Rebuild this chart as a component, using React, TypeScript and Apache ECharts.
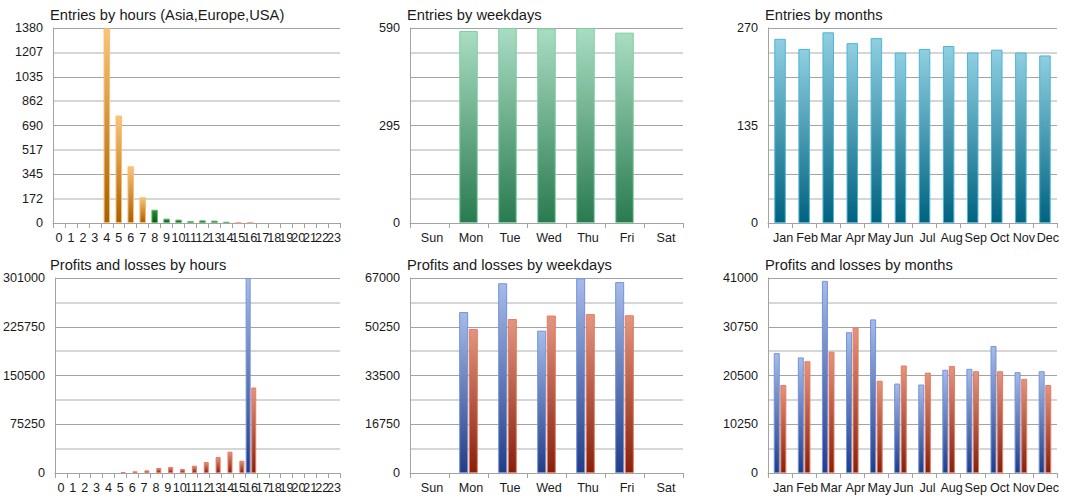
import { useEffect, useRef } from 'react';
import * as echarts from 'echarts';

// Category labels
const hourLabels = ['0', '1', '2', '3', '4', '5', '6', '7', '8', '9', '10', '11', '12', '13', '14', '15', '16', '17', '18', '19', '20', '21', '22', '23'];
const weekdayLabels = ['Sun', 'Mon', 'Tue', 'Wed', 'Thu', 'Fri', 'Sat'];
const monthLabels = ['Jan', 'Feb', 'Mar', 'Apr', 'May', 'Jun', 'Jul', 'Aug', 'Sep', 'Oct', 'Nov', 'Dec'];

// Entries by hour, one series per trading session
const entriesAsia = [null, null, null, null, 1378, 760, 401, 182, null, null, null, null, null, null, null, null, null, null, null, null, null, null, null, null];
const entriesEurope = [null, null, null, null, null, null, null, null, 94, 31, 24, 14, 19, 17, 9, null, null, null, null, null, null, null, null, null];
const entriesUsa = [null, null, null, null, null, null, null, null, null, null, null, null, null, null, null, 5, 5, null, null, null, null, null, null, null];

// Entries by weekday / month
const weekdayEntries = [null, 581, 590, 589, 590, 576, null];
const monthEntries = [255, 241, 264, 249, 256, 236, 241, 245, 236, 240, 236, 232];

// Profits and losses
const hourProfits = [null, null, null, null, null, null, null, null, null, null, null, null, null, null, null, null, 301000, null, null, null, null, null, null, null];
const hourLosses = [null, null, null, null, null, 1200, 2600, 4100, 7700, 9200, 6200, 11300, 16900, 24700, 32900, 19000, 132000, null, null, null, null, null, null, null];
const weekdayProfits = [null, 55300, 65200, 48900, 66900, 65600, null];
const weekdayLosses = [null, 49500, 52900, 54100, 54600, 54200, null];
const monthProfits = [25200, 24300, 40400, 29600, 32300, 18800, 18600, 21700, 21900, 26700, 21200, 21400];
const monthLosses = [18500, 23500, 25500, 30600, 19400, 22600, 21100, 22500, 21400, 21400, 19800, 18500];

// Value-axis tick labels (the axis is split in eight steps; only these are labelled)
const hourEntryTicks = [0, 172, 345, 517, 690, 862, 1035, 1207, 1380];
const weekdayEntryTicks = [0, 295, 590];
const monthEntryTicks = [0, 135, 270];
const hourPLTicks = [0, 75250, 150500, 225750, 301000];
const weekdayPLTicks = [0, 16750, 33500, 50250, 67000];
const monthPLTicks = [0, 10250, 20500, 30750, 41000];

const FONT = '"Liberation Sans", Arial, sans-serif';
const TEXT = '#1a1a1a';
const AXIS = '#a3a3a3';
const LIGHT_GRID = '#d6d6d6';

type Palette = { top: string; bottom: string; border: string };
const orange: Palette = { top: '#f9c47c', bottom: '#a85f00', border: '#fbbd6c' };
const green: Palette = { top: '#2a8a38', bottom: '#0a5812', border: '#62b96e' };
const salmon: Palette = { top: '#f2b3a2', bottom: '#d9745c', border: '#f4a996' };
const mint: Palette = { top: '#a9ddc2', bottom: '#2a7a50', border: '#7ccfa2' };
const teal: Palette = { top: '#8fcfe1', bottom: '#006380', border: '#4db6d6' };
const blue: Palette = { top: '#a6bbe9', bottom: '#213d86', border: '#7393dc' };
const red: Palette = { top: '#e39580', bottom: '#86200c', border: '#e97a5d' };

function barStyle(p: Palette) {
  return {
    color: new echarts.graphic.LinearGradient(0, 0, 0, 1, [
      { offset: 0, color: p.top },
      { offset: 1, color: p.bottom },
    ]),
    borderColor: p.border,
    borderWidth: 1,
  };
}

type Panel = {
  title: string;
  left: number;
  top: number;
  width: number;
  categories: string[];
  ticks: number[];
  labelPad: number;
};

const panels: Panel[] = [
  { title: 'Entries by hours (Asia,Europe,USA)', left: 53, top: 28, width: 287, categories: hourLabels, ticks: hourEntryTicks, labelPad: 0 },
  { title: 'Entries by weekdays', left: 410, top: 28, width: 273, categories: weekdayLabels, ticks: weekdayEntryTicks, labelPad: 5 },
  { title: 'Entries by months', left: 768, top: 28, width: 289, categories: monthLabels, ticks: monthEntryTicks, labelPad: 6 },
  { title: 'Profits and losses by hours', left: 53, top: 278, width: 287, categories: hourLabels, ticks: hourPLTicks, labelPad: 0 },
  { title: 'Profits and losses by weekdays', left: 410, top: 278, width: 273, categories: weekdayLabels, ticks: weekdayPLTicks, labelPad: 5 },
  { title: 'Profits and losses by months', left: 768, top: 278, width: 289, categories: monthLabels, ticks: monthPLTicks, labelPad: 6 },
];

const PLOT_HEIGHT = 195;

function buildOption() {
  const title: any[] = [];
  const grid: any[] = [];
  const xAxis: any[] = [];
  const yAxis: any[] = [];

  panels.forEach((p, i) => {
    const max = p.ticks[p.ticks.length - 1];
    title.push({
      text: p.title,
      left: p.left - 3,
      top: p.top - 21,
      padding: 0,
      textStyle: { fontFamily: FONT, fontSize: 14.7, fontWeight: 'normal', color: TEXT },
    });
    grid.push({ left: p.left, top: p.top, width: p.width, height: PLOT_HEIGHT, containLabel: false });
    xAxis.push({
      type: 'category',
      gridIndex: i,
      data: p.categories,
      axisLine: { show: true, lineStyle: { color: AXIS, width: 1 } },
      axisTick: { show: true, length: 5, alignWithLabel: false, lineStyle: { color: AXIS } },
      axisLabel: {
        interval: 0,
        margin: 8,
        fontFamily: FONT,
        fontSize: 12.6,
        color: TEXT,
        padding: [0, 0, 0, p.labelPad],
        hideOverlap: false,
      },
      splitLine: { show: false },
    });
    // labelled axis: light grid lines at the odd eighths
    yAxis.push({
      type: 'value',
      gridIndex: i,
      min: 0,
      max,
      interval: max / 8,
      axisLine: { show: true, lineStyle: { color: AXIS, width: 1 } },
      axisTick: { show: false },
      axisLabel: {
        margin: 10,
        fontFamily: FONT,
        fontSize: 12.6,
        color: TEXT,
        showMinLabel: true,
        showMaxLabel: true,
        formatter: (v: number) => {
          const n = Math.floor(v + 1e-6);
          return p.ticks.includes(n) ? String(n) : '';
        },
      },
      splitLine: { show: true, lineStyle: { color: ['rgba(0,0,0,0)', LIGHT_GRID], width: 2 } },
    });
    // companion axis: darker grid lines at the quarters
    yAxis.push({
      type: 'value',
      gridIndex: i,
      min: 0,
      max,
      interval: max / 4,
      axisLine: { show: false },
      axisTick: { show: false },
      axisLabel: { show: false },
      splitLine: { show: true, lineStyle: { color: AXIS, width: 1 } },
    });
  });

  const series: any[] = [
    // Entries by hours (stacked so each hour shows its session)
    { type: 'bar', name: 'Asia', xAxisIndex: 0, yAxisIndex: 0, stack: 'hours', barWidth: 6.5, data: entriesAsia, itemStyle: barStyle(orange) },
    { type: 'bar', name: 'Europe', xAxisIndex: 0, yAxisIndex: 0, stack: 'hours', barWidth: 6.5, data: entriesEurope, itemStyle: barStyle(green) },
    { type: 'bar', name: 'USA', xAxisIndex: 0, yAxisIndex: 0, stack: 'hours', barWidth: 6.5, data: entriesUsa, itemStyle: barStyle(salmon) },
    // Entries by weekdays
    { type: 'bar', name: 'Entries', xAxisIndex: 1, yAxisIndex: 2, barWidth: 18.5, data: weekdayEntries, itemStyle: barStyle(mint) },
    // Entries by months
    { type: 'bar', name: 'Entries', xAxisIndex: 2, yAxisIndex: 4, barWidth: 11.5, data: monthEntries, itemStyle: barStyle(teal) },
    // Profits and losses by hours
    { type: 'bar', name: 'Profits', xAxisIndex: 3, yAxisIndex: 6, barWidth: 5, barGap: '12%', data: hourProfits, itemStyle: barStyle(blue) },
    { type: 'bar', name: 'Losses', xAxisIndex: 3, yAxisIndex: 6, barWidth: 5, barGap: '12%', data: hourLosses, itemStyle: barStyle(red) },
    // Profits and losses by weekdays
    { type: 'bar', name: 'Profits', xAxisIndex: 4, yAxisIndex: 8, barWidth: 9, barGap: '7%', data: weekdayProfits, itemStyle: barStyle(blue) },
    { type: 'bar', name: 'Losses', xAxisIndex: 4, yAxisIndex: 8, barWidth: 9, barGap: '7%', data: weekdayLosses, itemStyle: barStyle(red) },
    // Profits and losses by months
    { type: 'bar', name: 'Profits', xAxisIndex: 5, yAxisIndex: 10, barWidth: 6, barGap: '10%', data: monthProfits, itemStyle: barStyle(blue) },
    { type: 'bar', name: 'Losses', xAxisIndex: 5, yAxisIndex: 10, barWidth: 6, barGap: '10%', data: monthLosses, itemStyle: barStyle(red) },
  ];

  return {
    animation: false,
    backgroundColor: '#ffffff',
    textStyle: { fontFamily: FONT },
    title,
    grid,
    xAxis,
    yAxis,
    series,
  };
}

export default function App() {
  const ref = useRef<HTMLDivElement>(null);

  useEffect(() => {
    if (!ref.current) return;
    const chart = echarts.init(ref.current, undefined, { renderer: 'svg' });
    chart.setOption(buildOption());
    return () => chart.dispose();
  }, []);

  return (
    <div
      ref={ref}
      style={{ position: 'absolute', left: 0, top: 0, width: 1075, height: 500, background: '#fff' }}
    />
  );
}
